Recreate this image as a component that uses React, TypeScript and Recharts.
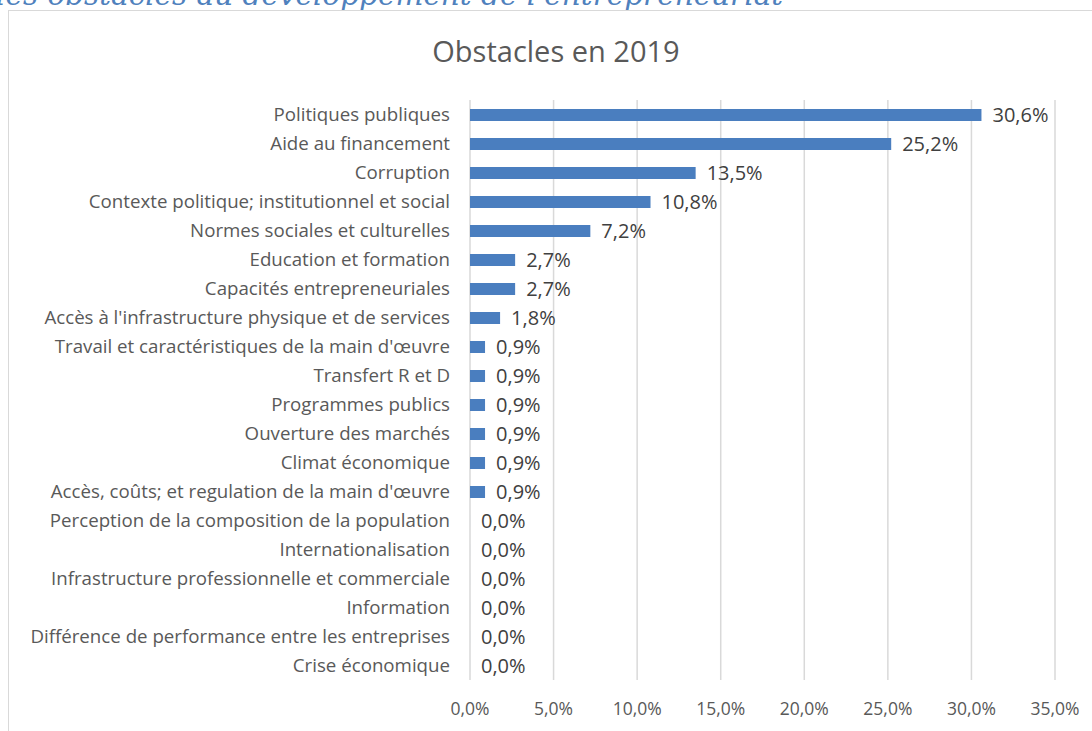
import React from "react";
import { Bar, BarChart, CartesianGrid, LabelList, XAxis, YAxis } from "recharts";

const categories = [
  "Politiques publiques",
  "Aide au financement",
  "Corruption",
  "Contexte politique; institutionnel et social",
  "Normes sociales et culturelles",
  "Education et formation",
  "Capacités entrepreneuriales",
  "Accès à l'infrastructure physique et de services",
  "Travail et caractéristiques de la main d'œuvre",
  "Transfert R et D",
  "Programmes publics",
  "Ouverture des marchés",
  "Climat économique",
  "Accès, coûts; et regulation de la main d'œuvre",
  "Perception de la composition de la population",
  "Internationalisation",
  "Infrastructure professionnelle et commerciale",
  "Information",
  "Différence de performance entre les entreprises",
  "Crise économique",
];

const shares = [30.6, 25.2, 13.5, 10.8, 7.2, 2.7, 2.7, 1.8, 0.9, 0.9, 0.9, 0.9, 0.9, 0.9, 0, 0, 0, 0, 0, 0];

const xTicks = [0, 5, 10, 15, 20, 25, 30, 35];

const data = categories.map((name, i) => ({ name, value: shares[i] }));

const pct = (v: number) => v.toFixed(1).replace(".", ",") + "%";

const font = "'Open Sans', 'Noto Sans', sans-serif";

export default function App() {
  return (
    <div
      style={{
        position: "fixed",
        left: 0,
        top: 0,
        width: 1092,
        height: 731,
        overflow: "hidden",
        background: "#fff",
        fontFamily: font,
      }}
    >
      <svg width={1092} height={20} style={{ position: "absolute", left: 0, top: 0 }}>
        <text
          x={-4}
          y={5}
          fill="#4f81bd"
          fontSize={29.5}
          fontStyle="italic"
          fontFamily="'DejaVu Serif', serif"
        >
          les obstacles au développement de l'entrepreneuriat
        </text>
      </svg>
      <div
        style={{
          position: "absolute",
          left: 8,
          top: 10,
          width: 1200,
          height: 800,
          border: "1.5px solid #d9d9d9",
        }}
      />
      <div
        style={{
          position: "absolute",
          left: 0,
          top: 31,
          width: 1112,
          textAlign: "center",
          fontSize: 29,
          lineHeight: "40px",
          color: "#595959",
        }}
      >
        Obstacles en 2019
      </div>
      <div style={{ position: "absolute", left: 0, top: 0 }}>
        <BarChart
          width={1092}
          height={731}
          data={data}
          layout="vertical"
          margin={{ top: 100, right: 37, bottom: 11, left: 0 }}
          barCategoryGap={0}
        >
          <CartesianGrid horizontal={false} stroke="#d9d9d9" strokeWidth={1.5} />
          <XAxis
            type="number"
            domain={[0, 35]}
            ticks={xTicks}
            tickFormatter={pct}
            axisLine={false}
            tickLine={false}
            tickMargin={17}
            height={40}
            tick={{ fill: "#595959", fontSize: 17.5, fontFamily: font }}
          />
          <YAxis
            type="category"
            dataKey="name"
            width={470}
            axisLine={false}
            tickLine={false}
            tickMargin={14}
            interval={0}
            tick={{ fill: "#595959", fontSize: 18.7, fontFamily: font }}
          />
          <Bar dataKey="value" fill="#4a7ebf" barSize={12} minPointSize={0.01} isAnimationActive={false}>
            <LabelList
              dataKey="value"
              position="right"
              offset={11}
              formatter={(v: number) => pct(v)}
              style={{ fill: "#404040", fontSize: 20, fontFamily: font }}
            />
          </Bar>
        </BarChart>
      </div>
    </div>
  );
}
